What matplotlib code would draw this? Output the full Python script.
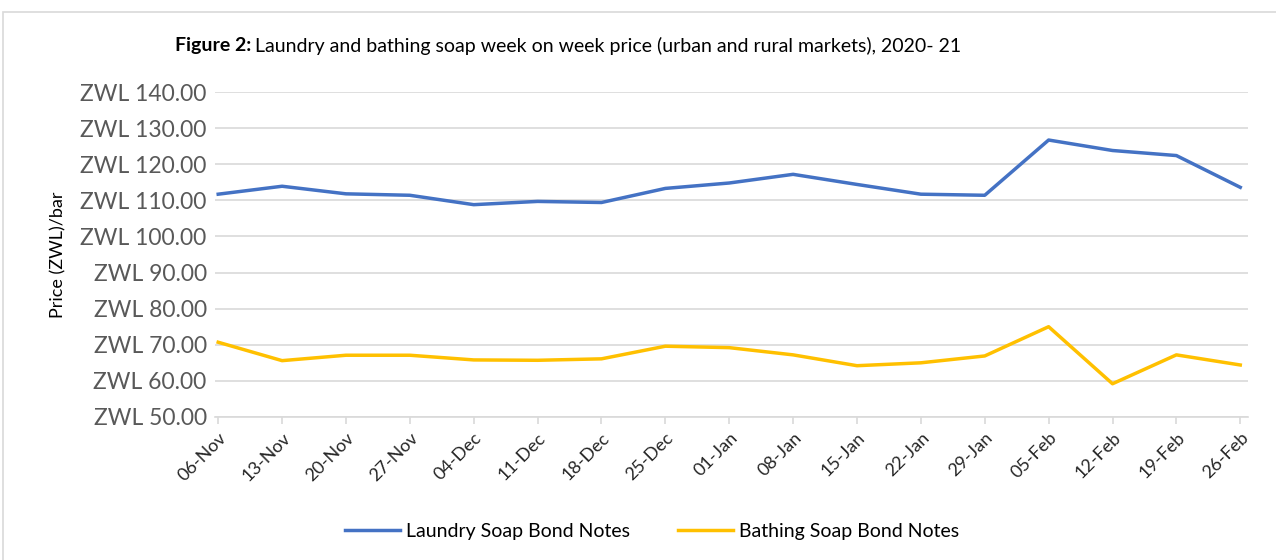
import matplotlib
matplotlib.use('Agg')
import matplotlib.pyplot as plt
from matplotlib.patches import Rectangle
import numpy as np

# Week labels and prices
weeks = ['06-Nov', '13-Nov', '20-Nov', '27-Nov', '04-Dec', '11-Dec', '18-Dec',
         '25-Dec', '01-Jan', '08-Jan', '15-Jan', '22-Jan', '29-Jan', '05-Feb',
         '12-Feb', '19-Feb', '26-Feb']
laundry = [111.7, 113.9, 111.8, 111.4, 108.8, 109.7, 109.4, 113.3, 114.8,
           117.2, 114.4, 111.7, 111.4, 126.7, 123.8, 122.4, 113.6]
bathing = [70.7, 65.6, 67.1, 67.1, 65.8, 65.7, 66.1, 69.6, 69.2, 67.2, 64.2,
           65.0, 66.9, 75.0, 59.2, 67.2, 64.4]
yticks = [50, 60, 70, 80, 90, 100, 110, 120, 130, 140]

COLOR_LAUNDRY = '#4472C4'
COLOR_BATHING = '#FFC000'
GRID = '#D9D9D9'
TEXT = '#595959'

plt.rcParams['font.family'] = ['Lato', 'DejaVu Sans']

fig = plt.figure(figsize=(12.76, 5.6), dpi=100)
ax = fig.add_axes([0.1685, 0.2554, 0.978 - 0.1685, 0.8357 - 0.2554])

# light outer border like the Excel chart area
fig.patches.append(Rectangle((3 / 1276, -0.1), 1.2, 1 - 12 / 560 + 0.1,
                             transform=fig.transFigure, fill=False,
                             edgecolor='#D9D9D9', linewidth=1.2))

x = np.arange(len(weeks))
ax.plot(x, laundry, color=COLOR_LAUNDRY, lw=2.5, label='Laundry Soap Bond Notes',
        solid_joinstyle='round', zorder=3)
ax.plot(x, bathing, color=COLOR_BATHING, lw=2.5, label='Bathing Soap Bond Notes',
        solid_joinstyle='round', zorder=3)

ax.set_ylim(50, 140)
ax.set_xlim(-0.05, len(weeks) - 1 + 0.12)
ax.set_yticks(yticks)
ax.set_yticklabels([f'ZWL {v:.2f}' for v in yticks], fontsize=16.5, color=TEXT)
ax.set_xticks(x)
ax.set_xticklabels(weeks, rotation=45, ha='right', rotation_mode='anchor',
                   fontsize=13, color='#262626')
ax.tick_params(axis='y', length=0, pad=6)
ax.tick_params(axis='x', length=5, color=GRID, width=1.2, pad=4)
ax.grid(axis='y', color=GRID, linewidth=1.2, zorder=0)
for s in ['top', 'right', 'left']:
    ax.spines[s].set_visible(False)
ax.spines['bottom'].set_color(GRID)
ax.spines['bottom'].set_linewidth(1.2)

ax.set_ylabel('Price (ZWL)/bar', fontsize=13, color='black', labelpad=10)

# title with a bold prefix
ty = 1 - 46 / 560
t1 = fig.text(175 / 1276, ty, 'Figure 2:', fontsize=14, fontweight='bold',
              va='center', ha='left')
fig.canvas.draw()
bb = t1.get_window_extent()
fig.text((bb.x1 + 4) / 1276, ty,
         'Laundry and bathing soap week on week price (urban and rural markets), 2020- 21',
         fontsize=14, va='center', ha='left')

fig.legend(loc='center', bbox_to_anchor=(0.511, 1 - 531 / 560), ncol=2, frameon=False,
           fontsize=14, handlelength=2.8, handletextpad=0.3, columnspacing=2.5)

fig.savefig('out.png', dpi=100)
